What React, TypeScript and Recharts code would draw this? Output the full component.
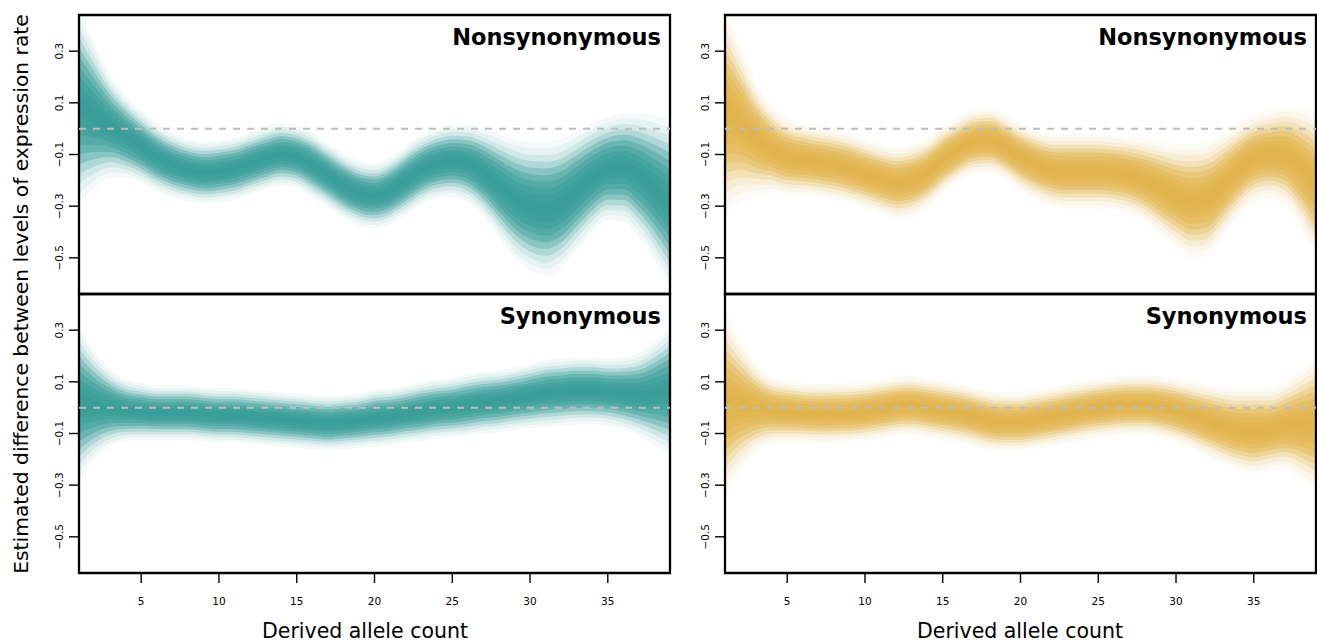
import { ComposedChart, Area, XAxis, YAxis, ReferenceLine, ReferenceArea } from 'recharts';

// ── data ────────────────────────────────────────────────────────────
const ALLELE_COUNT = [1, 2, 3, 4, 5, 6, 7, 8, 9, 10, 11, 12, 13, 14, 15, 16, 17, 18, 19, 20,
    21, 22, 23, 24, 25, 26, 27, 28, 29, 30, 31, 32, 33, 34, 35, 36, 37, 38, 39];

const TEAL_NONSYN = [0.09, 0.05, 0.01, -0.03, -0.07, -0.11, -0.14, -0.16, -0.17, -0.165,
    -0.155, -0.135, -0.115, -0.1, -0.11, -0.14, -0.18, -0.22, -0.25, -0.26,
    -0.24, -0.2, -0.16, -0.135, -0.125, -0.135, -0.17, -0.22, -0.27, -0.3,
    -0.31, -0.29, -0.24, -0.19, -0.155, -0.15, -0.18, -0.23, -0.29];
const TEAL_NONSYN_SPREAD = [0.38, 0.28, 0.2, 0.16, 0.14, 0.13, 0.125, 0.12, 0.12, 0.12,
    0.12, 0.12, 0.12, 0.12, 0.12, 0.125, 0.125, 0.125, 0.125, 0.125,
    0.13, 0.135, 0.135, 0.135, 0.14, 0.15, 0.17, 0.2, 0.23, 0.25,
    0.26, 0.25, 0.23, 0.21, 0.2, 0.21, 0.24, 0.28, 0.33];

const TEAL_SYN = [0.02, 0.01, 0.0, -0.01, -0.015, -0.02, -0.02, -0.02, -0.025, -0.03,
    -0.03, -0.035, -0.04, -0.045, -0.05, -0.055, -0.06, -0.055, -0.05, -0.04,
    -0.035, -0.025, -0.015, -0.005, 0.0, 0.01, 0.02, 0.025, 0.035, 0.045,
    0.055, 0.06, 0.065, 0.065, 0.06, 0.055, 0.05, 0.055, 0.065];
const TEAL_SYN_SPREAD = [0.3, 0.21, 0.15, 0.12, 0.11, 0.105, 0.105, 0.105, 0.105, 0.105,
    0.105, 0.105, 0.105, 0.105, 0.105, 0.105, 0.105, 0.105, 0.105, 0.11,
    0.11, 0.11, 0.115, 0.115, 0.115, 0.12, 0.12, 0.12, 0.12, 0.125,
    0.13, 0.13, 0.13, 0.13, 0.13, 0.14, 0.16, 0.2, 0.25];

const GOLD_NONSYN = [0.07, 0.02, -0.04, -0.08, -0.11, -0.12, -0.13, -0.14, -0.155, -0.175,
    -0.195, -0.21, -0.2, -0.17, -0.12, -0.08, -0.05, -0.045, -0.07, -0.11,
    -0.14, -0.16, -0.165, -0.165, -0.165, -0.17, -0.18, -0.2, -0.23, -0.26,
    -0.28, -0.27, -0.22, -0.16, -0.115, -0.1, -0.105, -0.15, -0.22];
const GOLD_NONSYN_SPREAD = [0.4, 0.3, 0.22, 0.17, 0.15, 0.14, 0.135, 0.135, 0.135, 0.135,
    0.135, 0.14, 0.14, 0.135, 0.13, 0.125, 0.125, 0.125, 0.125, 0.13,
    0.135, 0.14, 0.145, 0.145, 0.145, 0.145, 0.15, 0.16, 0.18, 0.2,
    0.22, 0.22, 0.2, 0.18, 0.17, 0.17, 0.19, 0.23, 0.28];

const GOLD_SYN = [0.015, 0.01, 0.0, -0.01, -0.015, -0.02, -0.023, -0.022, -0.02, -0.015,
    -0.005, 0.005, 0.008, 0.0, -0.01, -0.02, -0.035, -0.05, -0.055, -0.055,
    -0.045, -0.035, -0.023, -0.012, -0.002, 0.005, 0.01, 0.01, 0.002, -0.012,
    -0.03, -0.05, -0.07, -0.085, -0.09, -0.085, -0.07, -0.065, -0.065];
const GOLD_SYN_SPREAD = [0.36, 0.25, 0.17, 0.13, 0.12, 0.115, 0.115, 0.115, 0.115, 0.115,
    0.115, 0.115, 0.115, 0.115, 0.115, 0.115, 0.115, 0.115, 0.115, 0.115,
    0.115, 0.115, 0.115, 0.115, 0.115, 0.115, 0.115, 0.115, 0.12, 0.125,
    0.13, 0.14, 0.15, 0.16, 0.17, 0.16, 0.17, 0.21, 0.26];

const Y_TICKS = [-0.5, -0.3, -0.1, 0.1, 0.3];
const X_TICKS = [5, 10, 15, 20, 25, 30, 35];

const TEAL = '#25948E';
const GOLD = '#E0AE3C';
const FONT = '"DejaVu Sans", sans-serif';

// nested bands: fraction of the outer spread, fill opacity
const LAYERS = [
    { f: 1.0, o: 0.05 },
    { f: 0.9, o: 0.063 },
    { f: 0.8, o: 0.11 },
    { f: 0.7, o: 0.19 },
    { f: 0.6, o: 0.28 },
    { f: 0.5, o: 0.33 },
    { f: 0.4, o: 0.32 },
    { f: 0.3, o: 0.28 },
    { f: 0.2, o: 0.21 },
    { f: 0.1, o: 0.18 },
];

const PLOT_W = 591;
const PLOT_H = 279;
const Y_AXIS_W = 60;

const fmt = (v: number) => (v < 0 ? `\u2212${Math.abs(v).toFixed(1)}` : v.toFixed(1));

const YTick = ({ x, y, payload }: any) => (
    <text x={x - 4} y={y} transform={`rotate(-90 ${x - 4} ${y})`} textAnchor="middle"
        fontSize={10.5} fontFamily={FONT} fill="#000">{fmt(payload.value)}</text>
);

const XTick = ({ x, y, payload }: any) => (
    <text x={x} y={y + 20} textAnchor="middle" fontSize={10.5} fontFamily={FONT} fill="#000">{payload.value}</text>
);

function Panel({ left, top, median, spread, color, title, showX }: {
    left: number; top: number; median: number[]; spread: number[];
    color: string; title: string; showX: boolean;
}) {
    const data = ALLELE_COUNT.map((x, i) => {
        const row: Record<string, unknown> = { x };
        LAYERS.forEach((l, k) => {
            row['b' + k] = [median[i] - spread[i] * l.f, median[i] + spread[i] * l.f];
        });
        return row;
    });
    const mTop = 5;
    const xH = showX ? 60 : 0;
    return (
        <div style={{ position: 'absolute', left: left - Y_AXIS_W, top: top - mTop }}>
            <ComposedChart width={Y_AXIS_W + PLOT_W + 5} height={PLOT_H + mTop + (showX ? 0 : 5) + xH} data={data}
                margin={{ top: mTop, right: 5, bottom: showX ? 0 : 5, left: 0 }}>
                <XAxis dataKey="x" type="number" domain={[1, 39]} ticks={X_TICKS} allowDataOverflow hide={!showX}
                    height={xH} axisLine={false} tickSize={10} tickLine={{ stroke: '#000', strokeWidth: 1.4 }}
                    tick={<XTick />} interval={0} />
                <YAxis type="number" domain={[-0.64, 0.44]} ticks={Y_TICKS} allowDataOverflow width={Y_AXIS_W}
                    axisLine={false} tickSize={10} tickLine={{ stroke: '#000', strokeWidth: 1.4 }} tick={<YTick />} interval={0} />
                {LAYERS.map((l, k) => (
                    <Area key={k} type="monotone" dataKey={'b' + k} stroke="none" fill={color} fillOpacity={l.o}
                        isAnimationActive={false} dot={false} activeDot={false} />
                ))}
                <ReferenceLine y={0} stroke="#BDBDBD" strokeWidth={2} strokeDasharray="7 7" />
                <ReferenceArea x1={1} x2={39} y1={-0.64} y2={0.44} fill="none" stroke="#000" strokeWidth={2.3}
                    ifOverflow="visible" />
            </ComposedChart>
            <div style={{
                position: 'absolute', right: 5 + 9, top: mTop + 9, fontFamily: FONT, fontWeight: 'bold',
                fontSize: 22.5, lineHeight: '26px', whiteSpace: 'nowrap', color: '#000',
            }}>{title}</div>
        </div>
    );
}

export default function App() {
    return (
        <div style={{ position: 'absolute', left: 0, top: 0, width: 1317, height: 642, background: '#fff', fontFamily: FONT }}>
            <Panel left={79} top={15} median={TEAL_NONSYN} spread={TEAL_NONSYN_SPREAD} color={TEAL} title="Nonsynonymous" showX={false} />
            <Panel left={79} top={294} median={TEAL_SYN} spread={TEAL_SYN_SPREAD} color={TEAL} title="Synonymous" showX />
            <Panel left={725} top={15} median={GOLD_NONSYN} spread={GOLD_NONSYN_SPREAD} color={GOLD} title="Nonsynonymous" showX={false} />
            <Panel left={725} top={294} median={GOLD_SYN} spread={GOLD_SYN_SPREAD} color={GOLD} title="Synonymous" showX />

            <div style={{ position: 'absolute', left: 365, top: 631, transform: 'translate(-50%, -50%)', fontSize: 20.5, whiteSpace: 'nowrap' }}>
                Derived allele count
            </div>
            <div style={{ position: 'absolute', left: 1020, top: 631, transform: 'translate(-50%, -50%)', fontSize: 20.5, whiteSpace: 'nowrap' }}>
                Derived allele count
            </div>
            <div style={{ position: 'absolute', left: 21, top: 294, transform: 'translate(-50%, -50%) rotate(-90deg)', fontSize: 20.3, whiteSpace: 'nowrap' }}>
                Estimated difference between levels of expression rate
            </div>
        </div>
    );
}
